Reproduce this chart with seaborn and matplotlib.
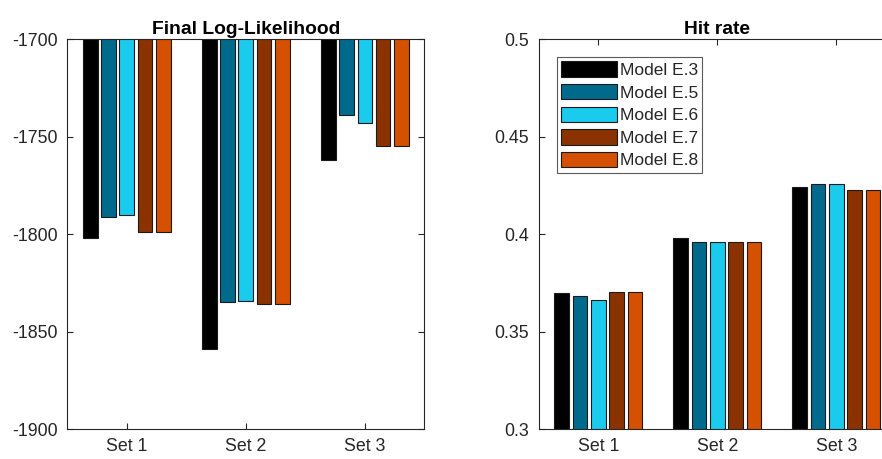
import numpy as np
import pandas as pd
import matplotlib
matplotlib.use("Agg")
import matplotlib.pyplot as plt
import seaborn as sns

# Per-model results for each evaluation set
sets = ["Set 1", "Set 2", "Set 3"]
models = ["Model E.3", "Model E.5", "Model E.6", "Model E.7", "Model E.8"]
colors = ["#000000", "#006A8C", "#1BCBEE", "#8B3300", "#D55000"]

loglik_e3 = [-1802, -1859, -1762]
loglik_e5 = [-1791, -1835, -1739]
loglik_e6 = [-1790, -1834, -1743]
loglik_e7 = [-1799, -1836, -1755]
loglik_e8 = [-1799, -1836, -1755]

hit_e3 = [0.3697, 0.3979, 0.4243]
hit_e5 = [0.3685, 0.3961, 0.4255]
hit_e6 = [0.3663, 0.3961, 0.4255]
hit_e7 = [0.3702, 0.3961, 0.4225]
hit_e8 = [0.3702, 0.3961, 0.4225]

loglik_ticks = [-1900, -1850, -1800, -1750, -1700]
hit_ticks = [0.3, 0.35, 0.4, 0.45, 0.5]


def long_table(series):
    rows = []
    for model, vals in zip(models, series):
        for s, v in zip(sets, vals):
            rows.append({"set": s, "model": model, "value": v})
    return pd.DataFrame(rows)


df_ll = long_table([loglik_e3, loglik_e5, loglik_e6, loglik_e7, loglik_e8])
df_hr = long_table([hit_e3, hit_e5, hit_e6, hit_e7, hit_e8])

sns.set_theme(style="white")
plt.rcParams["font.family"] = ["Liberation Sans", "DejaVu Sans"]
plt.rcParams["axes.unicode_minus"] = False

axis_col = "#262626"
fs = 12.8
title_fs = 13.9

fig = plt.figure(figsize=(8.82, 4.59), dpi=100)
ax1 = fig.add_axes([0.0763, 0.0647, 0.4048, 0.8503])
ax2 = fig.add_axes([0.6108, 0.0647, 0.4048, 0.8503])

bar_kw = dict(x="set", y="value", hue="model", order=sets, hue_order=models,
              palette=colors, width=0.769, gap=0.2, saturation=1,
              edgecolor="#1a1a1a", linewidth=0.8, errorbar=None)

sns.barplot(data=df_ll, ax=ax1, legend=False, **bar_kw)
sns.barplot(data=df_hr, ax=ax2, legend=True, **bar_kw)

for ax, ticks, title in [(ax1, loglik_ticks, "Final Log-Likelihood"),
                         (ax2, hit_ticks, "Hit rate")]:
    ax.set_xlim(-0.5, 2.5)
    ax.set_ylim(ticks[0], ticks[-1])
    ax.set_yticks(ticks)
    ax.set_yticklabels([f"{t:g}" for t in ticks])
    ax.set_xlabel("")
    ax.set_ylabel("")
    ax.set_title(title, fontsize=title_fs, fontweight="bold", color="black",
                 pad=3.5)
    for sp in ax.spines.values():
        sp.set_visible(True)
        sp.set_color(axis_col)
        sp.set_linewidth(0.8)
    ax.tick_params(axis="both", which="both", direction="in", length=4,
                   width=0.8, color=axis_col, labelcolor=axis_col,
                   labelsize=fs, top=True, right=True, bottom=True, left=True)
    ax.tick_params(axis="y", pad=7)
    ax.tick_params(axis="x", pad=6)

handles, labels = ax2.get_legend_handles_labels()
ax2.legend(handles, labels, loc="upper left", bbox_to_anchor=(0.0513, 0.954),
           borderaxespad=0, fontsize=12.5, frameon=True, fancybox=False,
           framealpha=1, edgecolor="#5a5a5a", handlelength=3.2,
           handleheight=1.0, labelspacing=0.34, handletextpad=0.15,
           borderpad=0.25, labelcolor=axis_col)
ax2.get_legend().get_frame().set_linewidth(0.8)

fig.savefig("out.png", dpi=100)
